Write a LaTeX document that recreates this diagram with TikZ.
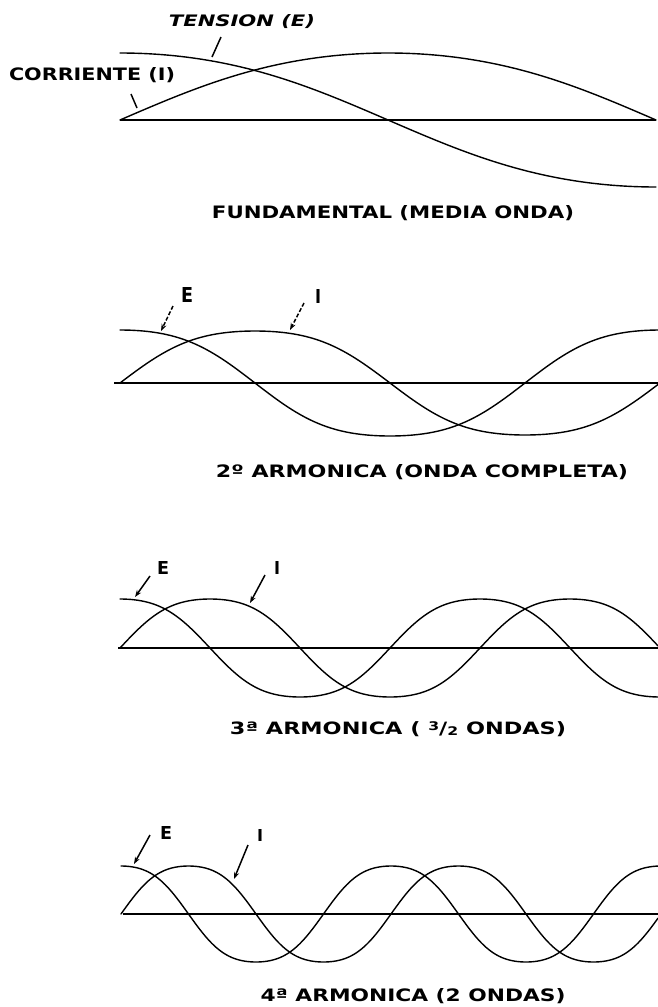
\documentclass[tikz,border=0pt]{standalone}
\usepackage{fontspec}
\setmainfont{DejaVu Sans}
\usetikzlibrary{arrows.meta}
\newcommand{\mylab}[3]{\resizebox{#1pt}{#2pt}{#3}}
\tikzset{
  declare function={shpa(\s)=\s*(1.1-0.1*\s*\s); shpb(\s)=\s*(1.25-0.25*\s*\s);},
  wave/.style={line width=1.4pt, line join=round, line cap=round},
  baseaxis/.style={line width=2.6pt},
  lbl/.style={inner sep=0pt, outer sep=0pt},
  leader/.style={line width=1.5pt},
  arrowleader/.style={line width=1.5pt, -{Stealth[length=7pt,width=5pt]}},
  dashedleader/.style={arrowleader, dash pattern=on 4pt off 2pt},
}
\begin{document}
\begin{tikzpicture}[x=1pt,y=-1pt]
\useasboundingbox (0,0) rectangle (658,1007);
% ---------- panel 1 : fundamental
\coordinate (a1l) at (120,120); \coordinate (a1r) at (656,120);
\draw[baseaxis] (a1l) -- (a1r);
\draw[wave] plot[domain=120:656,samples=160] (\x,{120-67*shpa(cos((\x-120)/536*180))});
\draw[wave] plot[domain=120:656,samples=160] (\x,{120-67*shpa(sin((\x-120)/536*180))});
\node[lbl] (tension) at (242,22) {\mylab{146}{12}{\bfseries\itshape TENSION (E)}};
\node[lbl] (corriente) at (92,75) {\mylab{166}{13}{\bfseries CORRIENTE (I)}};
\coordinate (t1) at (221,37); \coordinate (t2) at (212,57);
\draw[leader] (t1) -- (t2);
\coordinate (c1) at (131,94); \coordinate (c2) at (137,108);
\draw[leader] (c1) -- (c2);
\node[lbl] (cap1) at (393,213) {\mylab{362}{13}{\bfseries FUNDAMENTAL (MEDIA ONDA)}};
% ---------- panel 2 : 2nd harmonic
\coordinate (a2l) at (114,383); \coordinate (a2r) at (658,383);
\draw[baseaxis] (a2l) -- (a2r);
\draw[wave] plot[domain=120:658,samples=160] (\x,{383-53*shpb(cos((\x-120)/3*2))});
\draw[wave] plot[domain=120:658,samples=160] (\x,{383-52*shpb(sin((\x-120)/3*2))});
\node[lbl] (e2) at (187,295) {\mylab{12}{15}{\bfseries E}};
\node[lbl] (i2) at (318,296) {\mylab{6}{14}{\bfseries I}};
\coordinate (e2s) at (173,306); \coordinate (e2t) at (161,331);
\coordinate (i2s) at (304,303); \coordinate (i2t) at (290,330);
\draw[dashedleader] (e2s) -- (e2t);
\draw[dashedleader] (i2s) -- (i2t);
\node[lbl] (cap2) at (422,472) {\mylab{412}{13}{\bfseries 2º ARMONICA (ONDA COMPLETA)}};
% ---------- panel 3 : 3rd harmonic
\coordinate (a3l) at (118,648); \coordinate (a3r) at (658,648);
\draw[baseaxis] (a3l) -- (a3r);
\draw[wave] plot[domain=120:658,samples=200] (\x,{648-49*shpb(cos(\x-120))});
\draw[wave] plot[domain=120:658,samples=200] (\x,{648-49*shpb(sin(\x-120))});
\node[lbl] (e3) at (163,568) {\mylab{12}{13}{\bfseries E}};
\node[lbl] (i3) at (277,568) {\mylab{6}{13}{\bfseries I}};
\coordinate (e3s) at (150,576); \coordinate (e3t) at (135,597);
\coordinate (i3s) at (265,575); \coordinate (i3t) at (250,603);
\draw[arrowleader] (e3s) -- (e3t);
\draw[arrowleader] (i3s) -- (i3t);
\node[lbl] (cap3) at (398,729) {\mylab{336}{13}{\bfseries 3ª ARMONICA ( \raisebox{0.45ex}{\scriptsize 3}/\raisebox{-0.15ex}{\scriptsize 2} ONDAS)}};
% ---------- panel 4 : 4th harmonic
\coordinate (a4l) at (123,914); \coordinate (a4r) at (658,914);
\draw[baseaxis] (a4l) -- (a4r);
\draw[wave] plot[domain=121:658,samples=220] (\x,{914-48*shpb(cos((\x-121)/3*4))});
\draw[wave] plot[domain=121:658,samples=220] (\x,{914-48*shpb(sin((\x-121)/3*4))});
\node[lbl] (e4) at (166,833) {\mylab{12}{13}{\bfseries E}};
\node[lbl] (i4) at (260,835) {\mylab{6}{12}{\bfseries I}};
\coordinate (e4s) at (150,835); \coordinate (e4t) at (134,864);
\coordinate (i4s) at (248,845); \coordinate (i4t) at (234,879);
\draw[arrowleader] (e4s) -- (e4t);
\draw[arrowleader] (i4s) -- (i4t);
\node[lbl] (cap4) at (413,996) {\mylab{305}{13}{\bfseries 4ª ARMONICA (2 ONDAS)}};
\end{tikzpicture}
\end{document}
